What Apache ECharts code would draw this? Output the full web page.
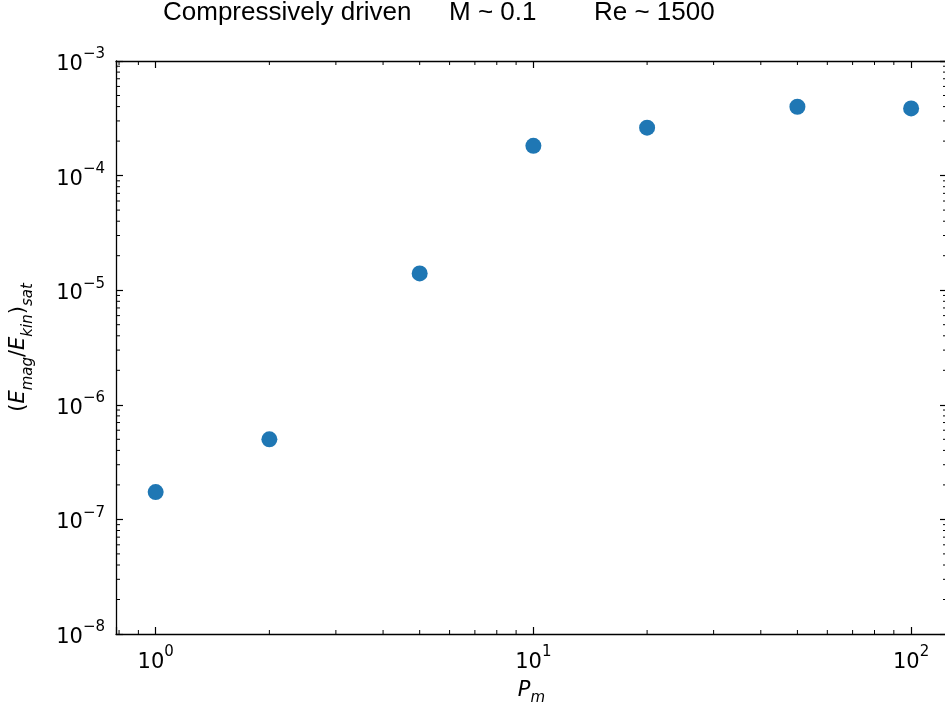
<!DOCTYPE html>
<html>
<head>
<meta charset="utf-8">
<style>html,body{margin:0;padding:0;background:#fff;}#chart{width:945px;height:711px;}</style>
<script src="https://cdn.jsdelivr.net/npm/echarts@6/dist/echarts.min.js"></script>
</head>
<body>
<div id="chart"></div>
<script>
// ---- data ----
const pm = [1, 2, 5, 10, 20, 50, 100];
const ratioSat = [1.73e-7, 5.0e-7, 1.40e-5, 1.82e-4, 2.62e-4, 3.99e-4, 3.86e-4];
const titleParts = ['Compressively driven', 'M ~ 0.1', 'Re ~ 1500'];
const xMinorTicks = [0.8, 0.9, 2, 3, 4, 5, 6, 7, 8, 9, 20, 30, 40, 50, 60, 70, 80, 90];
const yMinorTicks = [];
[-8, -7, -6, -5, -4].forEach(function (e) {
  [2, 3, 4, 5, 6, 7, 8, 9].forEach(function (m) { yMinorTicks.push(m * Math.pow(10, e)); });
});
const X_MIN = Math.pow(10, -0.105), X_MAX = Math.pow(10, 2.095);
const Y_MIN = 1e-8, Y_MAX = 1e-3;

const FONT = 'DejaVu Sans';
function powLabel(v) {
  const e = Math.log10(v);
  const r = Math.round(e);
  if (Math.abs(e - r) > 1e-6) return '';
  const s = r < 0 ? '\u2212' + (-r) : '' + r;
  return '{b|10}{s|' + s + '}';
}
const labelRich = {
  b: { fontFamily: FONT, fontSize: 21, color: '#000', lineHeight: 28, verticalAlign: 'bottom' },
  s: { fontFamily: FONT, fontSize: 15, color: '#000', lineHeight: 28, verticalAlign: 'top' }
};
const tickStyle = { color: '#000', width: 1.2 };
const lineStyle = { color: '#000', width: 1.3 };

function logAxis(pos, min, max, labels, split) {
  return {
    type: 'log', logBase: 10, position: pos, min: min, max: max, splitNumber: split,
    axisLine: { show: true, lineStyle: lineStyle },
    axisTick: { show: true, inside: true, length: 7, lineStyle: tickStyle },
    splitLine: { show: false },
    axisLabel: labels ? { show: true, formatter: powLabel, rich: labelRich, margin: 11 } : { show: false }
  };
}

const xBottom = logAxis('bottom', X_MIN, X_MAX, true, 2);
xBottom.name = '{i|P}{sub|m}';
xBottom.nameLocation = 'middle';
xBottom.nameGap = 46;
xBottom.nameTextStyle = { rich: {
  i: { fontFamily: FONT, fontStyle: 'italic', fontSize: 21, color: '#000', lineHeight: 26, verticalAlign: 'top' },
  sub: { fontFamily: FONT, fontStyle: 'italic', fontSize: 15, color: '#000', lineHeight: 26, verticalAlign: 'bottom' }
}};
const xTop = logAxis('top', X_MIN, X_MAX, false, 2);

const yLeft = logAxis('left', Y_MIN, Y_MAX, true, 5);
yLeft.name = '{n|(}{i|E}{sub|mag}{n|/}{i|E}{sub|kin}{n|)}{sub|sat}';
yLeft.nameLocation = 'middle';
yLeft.nameRotate = 90;
yLeft.nameGap = 80;
yLeft.nameTextStyle = { rich: {
  n: { fontFamily: FONT, fontSize: 21, color: '#000', lineHeight: 28, verticalAlign: 'top' },
  i: { fontFamily: FONT, fontStyle: 'italic', fontSize: 21, color: '#000', lineHeight: 28, verticalAlign: 'top' },
  sub: { fontFamily: FONT, fontStyle: 'italic', fontSize: 15, color: '#000', lineHeight: 28, verticalAlign: 'bottom' }
}};
const yRight = logAxis('right', Y_MIN, Y_MAX, false, 5);

const titleStyle = { fontFamily: 'Liberation Sans', fontWeight: 'normal', fontSize: 26, color: '#000' };
const chart = echarts.init(document.getElementById('chart'), null, { renderer: 'canvas' });
chart.setOption({
  animation: false,
  backgroundColor: '#fff',
  title: [
    { text: titleParts[0], left: 163, top: 0, padding: 0, textStyle: titleStyle },
    { text: titleParts[1], left: 449, top: 0, padding: 0, textStyle: titleStyle },
    { text: titleParts[2], left: 594, top: 0, padding: 0, textStyle: titleStyle }
  ],
  grid: { left: 116, width: 831, top: 61, height: 573, containLabel: false, outerBoundsMode: 'none' },
  xAxis: [xBottom, xTop],
  yAxis: [yLeft, yRight],
  series: [
    {
      type: 'scatter', xAxisIndex: 0, yAxisIndex: 0,
      data: pm.map(function (x, i) { return [x, ratioSat[i]]; }),
      symbolSize: 16,
      itemStyle: { color: '#1f77b4', opacity: 1 },
      z: 5
    },
    {
      type: 'custom', xAxisIndex: 0, yAxisIndex: 0, silent: true, clip: false, z: 4,
      data: xMinorTicks.map(function (v) { return [v, Y_MIN]; }),
      renderItem: function (params, api) {
        const v = api.value(0);
        const b = api.coord([v, Y_MIN]);
        const t = api.coord([v, Y_MAX]);
        return { type: 'group', children: [
          { type: 'line', shape: { x1: b[0], y1: b[1], x2: b[0], y2: b[1] - 4 }, style: { stroke: '#000', lineWidth: 1 } },
          { type: 'line', shape: { x1: t[0], y1: t[1], x2: t[0], y2: t[1] + 4 }, style: { stroke: '#000', lineWidth: 1 } }
        ]};
      }
    },
    {
      type: 'custom', xAxisIndex: 0, yAxisIndex: 0, silent: true, clip: false, z: 4,
      data: yMinorTicks.map(function (v) { return [X_MIN, v]; }),
      renderItem: function (params, api) {
        const v = api.value(1);
        const l = api.coord([X_MIN, v]);
        const r = api.coord([X_MAX, v]);
        return { type: 'group', children: [
          { type: 'line', shape: { x1: l[0], y1: l[1], x2: l[0] + 4, y2: l[1] }, style: { stroke: '#000', lineWidth: 1 } },
          { type: 'line', shape: { x1: r[0], y1: r[1], x2: r[0] - 4, y2: r[1] }, style: { stroke: '#000', lineWidth: 1 } }
        ]};
      }
    }
  ]
});
</script>
</body>
</html>
